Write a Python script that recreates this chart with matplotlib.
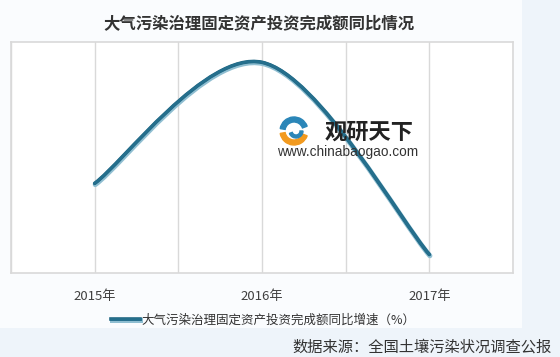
import numpy as np
import matplotlib
matplotlib.use("Agg")
import matplotlib.pyplot as plt
from matplotlib.path import Path
from matplotlib.patches import PathPatch, Rectangle, Wedge
from matplotlib.lines import Line2D
import matplotlib.patheffects as pe

plt.rcParams['font.family'] = ['Noto Sans CJK SC', 'DejaVu Sans']

# === Données ===
years = ["2015年", "2016年", "2017年"]
growth = [9.7, 22.8, 2.0]  # valeurs estimées (axe y non gradué)
series_name = "大气污染治理固定资产投资完成额同比增速（%）"
title = "大气污染治理固定资产投资完成额同比情况"
source = "数据来源：全国土壤污染状况调查公报"


def smooth_path(xs, ys):
    """Courbe lissée façon Excel (Bézier cubiques passant par les points)."""
    pts = np.column_stack([xs, ys]).astype(float)
    n = len(pts)
    verts = [pts[0]]
    codes = [Path.MOVETO]
    for i in range(n - 1):
        p_prev = pts[max(i - 1, 0)]
        p_next = pts[min(i + 2, n - 1)]
        c1 = pts[i] + (pts[i + 1] - p_prev) / 6
        c2 = pts[i + 1] - (p_next - pts[i]) / 6
        verts += [c1, c2, pts[i + 1]]
        codes += [Path.CURVE4] * 3
    return Path(verts, codes)


fig = plt.figure(figsize=(5.6, 3.57), dpi=100)
fig.patch.set_facecolor("#eef4fa")
fig.add_artist(Rectangle((0, 1 - 328 / 357), 522 / 560, 328 / 357,
                         transform=fig.transFigure, facecolor="#fafcfe",
                         edgecolor="none", zorder=0))

ax = fig.add_axes([11 / 560, 1 - 273 / 357, 502 / 560, 231 / 357])
ax.set_facecolor("white")

x = np.arange(len(years))
line_effects = [
    pe.Stroke(linewidth=3.6, foreground="#8fbed1", offset=(0.4, -0.9)),
    pe.Stroke(linewidth=2.6, foreground="#1f6682"),
    pe.Normal(),
]
patch = PathPatch(smooth_path(x, growth), facecolor="none",
                  edgecolor="#256f8d", linewidth=2.0,
                  capstyle="round", zorder=3, path_effects=line_effects)
ax.add_patch(patch)

ax.set_xlim(-0.5, 2.5)
ax.set_ylim(0, 25)
ax.set_xticks(x, years)
ax.set_xticks(np.arange(-0.5, 2.6, 0.5), minor=True)
ax.set_yticks([])
ax.grid(axis="x", which="both", color="#d9d9d9", linewidth=1)
ax.tick_params(axis="x", which="both", length=0, pad=12,
               labelsize=9.5, labelcolor="#404040")
for s in ax.spines.values():
    s.set_color("#d9d9d9")
    s.set_linewidth(1.2)

# Titre
fig.text(259 / 560, 1 - 24 / 357, title, ha="center", va="center",
         fontsize=11.8, fontweight="bold", color="#333333")

# Légende
handle = Line2D([], [], color="#256f8d", linewidth=2.0,
                path_effects=line_effects)
fig.legend([handle], [series_name], loc="center",
           bbox_to_anchor=(263 / 560, 1 - 320 / 357), frameon=False,
           fontsize=9, handlelength=2.3, handletextpad=0.1,
           labelcolor="#333333")

# Source
fig.text(552 / 560, 1 - 347 / 357, source, ha="right", va="center",
         fontsize=11, color="#333333")

# Filigrane
cx, cy = 294, 357 - 131
fig.add_artist(Wedge((cx, cy), 14, 20, 170, width=5, color="#2b86b8",
                     transform=None, zorder=4))
fig.add_artist(Wedge((cx, cy), 14, 190, 340, width=5, color="#f29a1f",
                     transform=None, zorder=4))
fig.add_artist(Wedge((cx + 2, cy), 7, 200, 360, width=3, color="#2b86b8",
                     transform=None, zorder=4))
fig.text(369 / 560, 1 - 132 / 357, "观研天下", ha="center", va="center",
         fontsize=16, fontweight="bold", color="#222222", zorder=4)
fig.text(348 / 560, 1 - 152 / 357, "www.chinabaogao.com", ha="center",
         va="center", fontsize=9.8, color="#333333", family="Liberation Sans",
         zorder=4)

fig.savefig("out.png", dpi=100, facecolor=fig.get_facecolor())
